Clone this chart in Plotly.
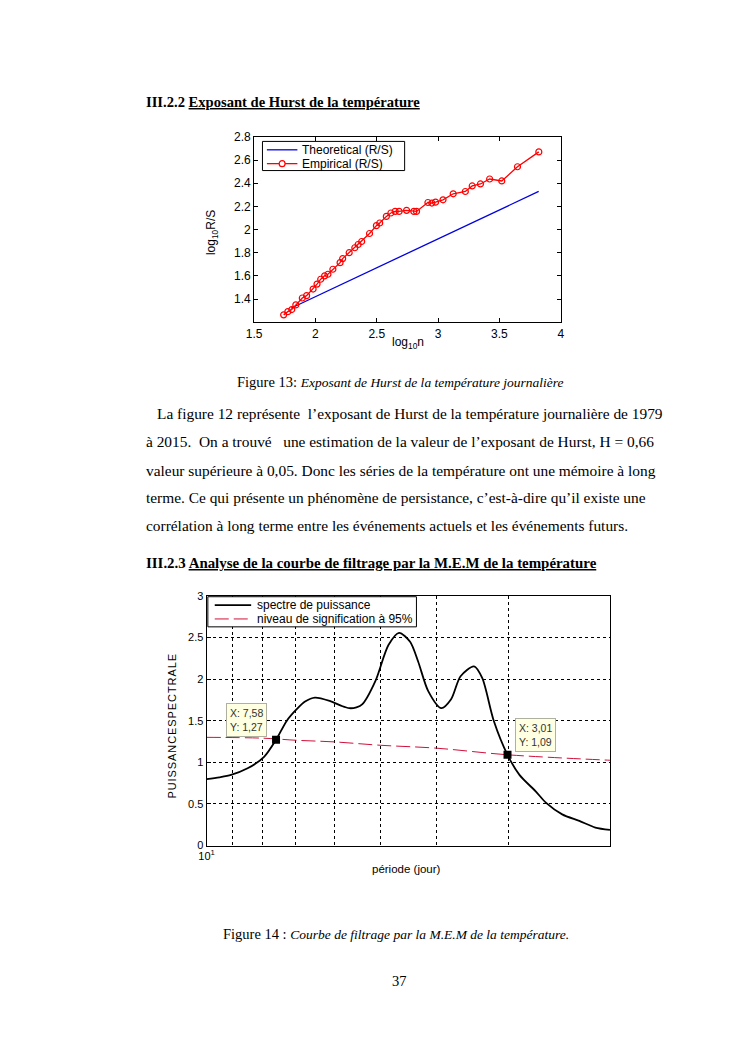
import math
import plotly.graph_objects as go

# ---------------- data: Figure 13 (Hurst R/S) ----------------
emp_logn = [1.741, 1.775, 1.807, 1.840, 1.893, 1.928, 1.981, 2.013, 2.043, 2.075,
            2.102, 2.142, 2.201, 2.222, 2.275, 2.321, 2.348, 2.377, 2.441, 2.497,
            2.524, 2.578, 2.615, 2.650, 2.682, 2.743, 2.802, 2.824, 2.917, 2.949,
            2.979, 3.040, 3.123, 3.222, 3.278, 3.345, 3.420, 3.519, 3.647, 3.821]
emp_logrs = [1.263, 1.291, 1.309, 1.349, 1.409, 1.429, 1.486, 1.529, 1.571, 1.600,
             1.614, 1.657, 1.714, 1.749, 1.800, 1.843, 1.871, 1.897, 1.966, 2.034,
             2.057, 2.114, 2.143, 2.157, 2.157, 2.166, 2.157, 2.157, 2.234, 2.229,
             2.237, 2.257, 2.309, 2.329, 2.377, 2.394, 2.437, 2.420, 2.543, 2.671]
theo_logn = [1.80, 3.82]
theo_logrs = [1.32, 2.33]
h_xticks = [1.5, 2, 2.5, 3, 3.5, 4]
h_xlabels = ["1.5", "2", "2.5", "3", "3.5", "4"]
h_yticks = [1.4, 1.6, 1.8, 2.0, 2.2, 2.4, 2.6, 2.8]
h_ylabels = ["1.4", "1.6", "1.8", "2", "2.2", "2.4", "2.6", "2.8"]
h_legend = ["Theoretical (R/S)", "Empirical (R/S)"]

# ---------------- data: Figure 14 (MEM spectrum) ----------------
periode = [10.0, 9.5, 9.07, 8.49, 7.95, 7.58, 7.26, 6.98, 6.75, 6.49,
           6.12, 5.85, 5.66, 5.50, 5.37, 5.10, 4.84, 4.64, 4.44, 4.30,
           4.13, 3.92, 3.77, 3.63, 3.44, 3.33, 3.18, 3.01, 2.87, 2.69,
           2.58, 2.42, 2.26, 2.12, 2.0]
puissance = [0.797, 0.820, 0.849, 0.928, 1.066, 1.270, 1.500, 1.638, 1.730, 1.777,
             1.737, 1.680, 1.650, 1.660, 1.698, 1.974, 2.408, 2.554, 2.448, 2.211,
             1.855, 1.650, 1.757, 2.033, 2.152, 2.013, 1.500, 1.090, 0.849, 0.651,
             0.513, 0.375, 0.296, 0.217, 0.189]
sig_periode = [10, 8, 7, 6, 5, 4, 3, 2]
sig_niveau = [1.300, 1.290, 1.265, 1.245, 1.205, 1.170, 1.090, 1.025]
tip_periode = [7.58, 3.01]
tip_valeur = [1.27, 1.09]
tip_text = ["X: 7,58<br>Y: 1,27", "X: 3,01<br>Y: 1,09"]
m_xticks = [10, 9, 8, 7, 6, 5, 4, 3]
m_xlabels = ["10<sup>1</sup>", "", "", "", "", "", "", ""]
m_yticks = [0, 0.5, 1, 1.5, 2, 2.5, 3]
m_ylabels = ["0", "0.5", "1", "1.5", "2", "2.5", "3"]
m_legend = ["spectre de puissance", "niveau de signification à 95%"]

W, H = 745, 1053
OFF = 8  # page body margin of the html page


def px(x):
    return (x - OFF) / W


def py(y):
    return 1 - (y - OFF) / H


SANS = "Liberation Sans"
SERIF = "Liberation Serif"
BLUE = "#0000e0"
RED = "#ff0000"
SIGRED = "#d0103a"
DASH = "14px,5px"

fig = go.Figure()

fig.add_trace(go.Scatter(x=theo_logn, y=theo_logrs, mode="lines", name=h_legend[0],
                         line=dict(color=BLUE, width=1.3), xaxis="x", yaxis="y",
                         showlegend=False))
fig.add_trace(go.Scatter(x=emp_logn, y=emp_logrs, mode="lines+markers", name=h_legend[1],
                         line=dict(color=RED, width=1.3),
                         marker=dict(symbol="circle-open", size=6, color=RED,
                                     line=dict(width=1.2)),
                         xaxis="x", yaxis="y", showlegend=False))

fig.add_trace(go.Scatter(x=periode, y=puissance, mode="lines", name=m_legend[0],
                         line=dict(color="black", width=1.8, shape="spline", smoothing=0.8),
                         xaxis="x2", yaxis="y2", showlegend=False))
fig.add_trace(go.Scatter(x=sig_periode, y=sig_niveau, mode="lines", name=m_legend[1],
                         line=dict(color=SIGRED, width=1, dash=DASH, shape="spline"),
                         xaxis="x2", yaxis="y2", showlegend=False))
fig.add_trace(go.Scatter(x=tip_periode, y=tip_valeur, mode="markers", showlegend=False,
                         marker=dict(symbol="square", size=8, color="black"),
                         xaxis="x2", yaxis="y2"))

axis_common = dict(showline=True, linecolor="black", linewidth=1, zeroline=False,
                   tickcolor="black")
f12 = dict(family=SANS, size=12, color="black")
f11 = dict(family=SANS, size=11, color="black")

fig.update_layout(
    width=W, height=H, margin=dict(l=0, r=0, t=0, b=0),
    paper_bgcolor="white", plot_bgcolor="white", showlegend=False,
    xaxis=dict(domain=[px(250), px(561.7)], range=[1.5, 4], tickvals=h_xticks,
               ticktext=h_xlabels, ticks="inside", ticklen=4, mirror="allticks",
               showgrid=False, anchor="y", tickfont=f12, **axis_common),
    yaxis=dict(domain=[py(319), py(131.5)], range=[1.2, 2.8], tickvals=h_yticks,
               ticktext=h_ylabels, ticks="inside", ticklen=4, mirror="allticks",
               showgrid=False, anchor="x", tickfont=f12, **axis_common),
    xaxis2=dict(domain=[px(201.7), px(611.7)], type="log",
                range=[1, math.log10(2)], tickvals=m_xticks, ticktext=m_xlabels,
                ticks="", mirror=True, showgrid=True, gridcolor="black",
                griddash="3px,3px", gridwidth=1, anchor="y2", tickfont=f11,
                **axis_common),
    yaxis2=dict(domain=[py(849), py(596)], range=[0, 3], tickvals=m_yticks,
                ticktext=m_ylabels, ticks="inside", ticklen=4, mirror=True,
                showgrid=True, gridcolor="black", griddash="3px,3px", gridwidth=1,
                anchor="x2", tickfont=f11, **axis_common),
)

ann = []
shapes = []


def text(x, y, s, size=15, family=SERIF, xanchor="left", angle=0, color="black"):
    ann.append(dict(x=px(x), y=py(y), xref="paper", yref="paper", text=s, showarrow=False,
                    xanchor=xanchor, yanchor="middle", textangle=angle,
                    font=dict(family=family, size=size, color=color)))


def pline(x0, y0, x1, y1, color, width=1, dash=None):
    d = dict(type="line", xref="paper", yref="paper", x0=px(x0), y0=py(y0),
             x1=px(x1), y1=py(y1), line=dict(color=color, width=width))
    if dash:
        d["line"]["dash"] = dash
    shapes.append(d)


def prect(x0, y0, x1, y1):
    shapes.append(dict(type="rect", xref="paper", yref="paper", x0=px(x0), y0=py(y0),
                       x1=px(x1), y1=py(y1), line=dict(color="black", width=1),
                       fillcolor="white"))


LM = 138  # left text margin
# page text
text(LM, 96, "<b>III.2.2 <u>Exposant de Hurst de la température</u></b>", size=14.6)
text(399, 380, "Figure 13: <i><span style='font-size:13.5px'>Exposant de Hurst de la température journalière</span></i>",
     size=14.5, xanchor="center")
body = [
    (LM + 11, 411, "La figure 12 représente  l’exposant de Hurst de la température journalière de 1979"),
    (LM, 440, "à 2015.  On a trouvé   une estimation de la valeur de l’exposant de Hurst, H = 0,66"),
    (LM, 469, "valeur supérieure à 0,05. Donc les séries de la température ont une mémoire à long"),
    (LM, 497, "terme. Ce qui présente un phénomène de persistance, c’est-à-dire qu’il existe une"),
    (LM, 525, "corrélation à long terme entre les événements actuels et les événements futurs."),
]
for bx, by, s in body:
    text(bx, by, s, size=15.4)
text(LM, 563, "<b>III.2.3 <u>Analyse de la courbe de filtrage par la M.E.M de la température</u></b>",
     size=14.9)
text(394, 938, "Figure 14 : <i><span style='font-size:13.5px'>Courbe de filtrage par la M.E.M de la température.</span></i>",
     size=14.5, xanchor="center")
text(398, 986, "37", size=14.5, xanchor="center")

# chart axis titles
text(208, 228, "log<sub>10</sub>R/S", size=12, family=SANS, xanchor="center", angle=-90)
text(406, 340, "log<sub>10</sub>n", size=12, family=SANS, xanchor="center")
hs = "\u200a"
text(167, 728, hs.join("PUISSANCESPECTRALE"), size=11, family=SANS,
     xanchor="center", angle=-90)
text(405, 873, "période (jour)", size=11.5, family=SANS, xanchor="center")

# legend of figure 13 (drawn manually to match the compact MATLAB legend)
prect(258.5, 136, 403, 165.5)
pline(263, 144.5, 294, 144.5, BLUE, 1.3)
text(297, 144.5, h_legend[0], size=12, family=SANS)
pline(263, 158.5, 294, 158.5, RED, 1.3)
shapes.append(dict(type="circle", xref="paper", yref="paper",
                   x0=px(275.5), x1=px(281.5), y0=py(155.5), y1=py(161.5),
                   line=dict(color=RED, width=1.2), fillcolor="white"))
text(297, 158.5, h_legend[1], size=12, family=SANS)

# legend of figure 14
prect(203, 597, 415, 627.5)
pline(210, 605.5, 247, 605.5, "black", 1.8)
text(251, 605.5, m_legend[0], size=12, family=SANS)
pline(210, 619.5, 247, 619.5, SIGRED, 1, DASH)
text(251, 619.5, m_legend[1], size=12, family=SANS)

# data tips
for (cx, cy), s in zip([(242, 722), (536, 737)], tip_text):
    ann.append(dict(x=px(cx), y=py(cy), xref="paper", yref="paper", text=s, showarrow=False,
                    xanchor="center", yanchor="middle", align="left",
                    bgcolor="#ffffe1", bordercolor="#b0b0a0", borderwidth=1, borderpad=3,
                    font=dict(family=SANS, size=10.5, color="#333333")))

fig.update_layout(annotations=ann, shapes=shapes)
fig.write_html("out.html")
